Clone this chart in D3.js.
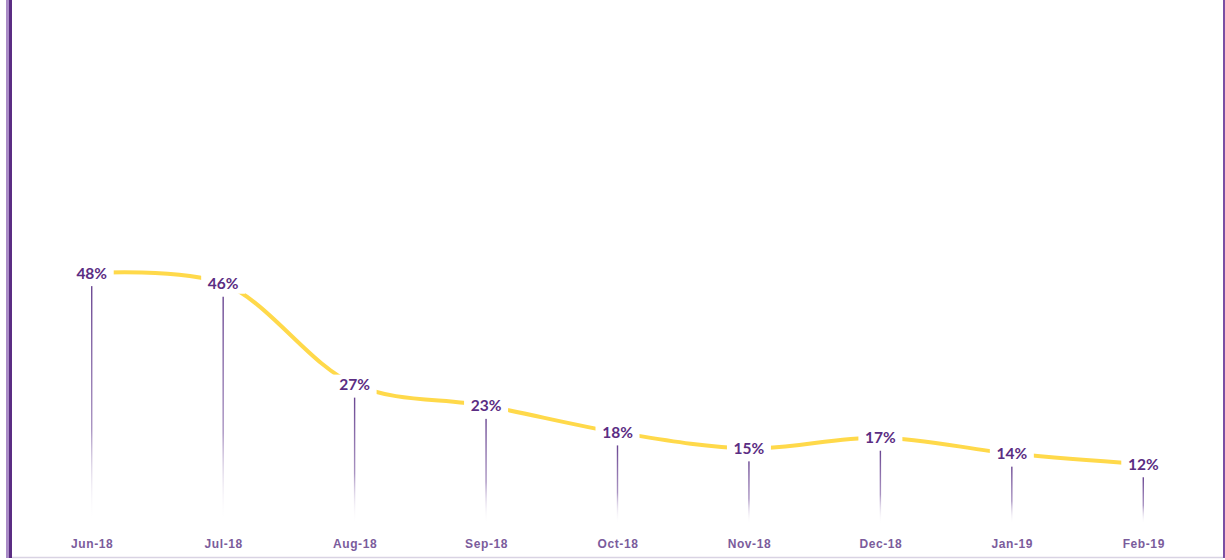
<!DOCTYPE html>
<html>
<head>
<meta charset="utf-8">
<script src="https://cdn.jsdelivr.net/npm/d3@7"></script>
<style>
  body { margin: 0; background: #fff; }
  svg { display: block; font-family: Lato, "Open Sans", sans-serif; }
  .value { font-size: 15.5px; font-weight: bold; fill: #5b2d83; }
  .cat { font-size: 12px; font-weight: bold; fill: #7b5c9c; letter-spacing: 0.6px; }
</style>
</head>
<body>
<svg id="chart" width="1225" height="560"></svg>
<script>
var months = ["Jun-18", "Jul-18", "Aug-18", "Sep-18", "Oct-18", "Nov-18", "Dec-18", "Jan-19", "Feb-19"];
var rates = [48, 46, 27, 23, 18, 15, 17, 14, 12];

var svg = d3.select("#chart");

var params = {
  "plot": { "left": 26, "right": 1209, "top": -3, "bottom": 528 }
};

var data = months.map(function(m, i) { return { "month": m, "value": rates[i] }; });

var x = d3.scalePoint()
  .domain(months)
  .range([params.plot.left, params.plot.right])
  .padding(0.5);

var y = d3.scaleLinear()
  .domain([0, 100])
  .range([params.plot.bottom, params.plot.top]);

// frame
svg.append("rect").attr("x", 6).attr("y", 0).attr("width", 3).attr("height", 558).attr("fill", "#a98bc6");
svg.append("rect").attr("x", 9).attr("y", 0).attr("width", 3).attr("height", 558).attr("fill", "#5b2d83");
svg.append("rect").attr("x", 1223).attr("y", 0).attr("width", 2).attr("height", 558).attr("fill", "#7b4fa3");
svg.append("line").attr("x1", 12).attr("x2", 1223).attr("y1", 557.5).attr("y2", 557.5)
  .attr("stroke", "#d9d3e3").attr("stroke-width", 1.5);

// gradient for drop lines
var defs = svg.append("defs");
var grad = defs.append("linearGradient")
  .attr("id", "dropGrad")
  .attr("x1", 0).attr("y1", 0).attr("x2", 0).attr("y2", 1);
grad.append("stop").attr("offset", "0%").attr("stop-color", "#6a4692").attr("stop-opacity", 1);
grad.append("stop").attr("offset", "60%").attr("stop-color", "#8c6fad").attr("stop-opacity", 0.75);
grad.append("stop").attr("offset", "100%").attr("stop-color", "#ffffff").attr("stop-opacity", 0);

// drop lines (rects so the gradient bounding box works)
svg.selectAll("rect.drop")
  .data(data)
  .enter()
  .append("rect")
  .attr("class", "drop")
  .attr("x", function(d) { return x(d.month) - 0.7; })
  .attr("y", function(d) { return y(d.value) + 13; })
  .attr("width", 1.4)
  .attr("height", function(d) { return 524 - (y(d.value) + 13); })
  .attr("fill", "url(#dropGrad)");

// smoothed line
var line = d3.line()
  .x(function(d) { return x(d.month); })
  .y(function(d) { return y(d.value); })
  .curve(d3.curveCatmullRom.alpha(0.5));

svg.append("path")
  .datum(data)
  .attr("d", line)
  .attr("fill", "none")
  .attr("stroke", "#ffd94a")
  .attr("stroke-width", 4)
  .attr("stroke-linecap", "butt");

// value labels with white background
var labels = svg.selectAll("g.label")
  .data(data)
  .enter()
  .append("g")
  .attr("class", "label")
  .attr("transform", function(d) { return "translate(" + x(d.month) + "," + y(d.value) + ")"; });

labels.append("rect")
  .attr("x", -22)
  .attr("y", -10)
  .attr("width", 44)
  .attr("height", 20)
  .attr("fill", "#fff");

labels.append("text")
  .attr("class", "value")
  .attr("text-anchor", "middle")
  .attr("dy", "0.35em")
  .text(function(d) { return d.value + "%"; });

// category axis labels
var axis = d3.axisBottom(x).tickSize(0).tickPadding(0);
var gx = svg.append("g")
  .attr("transform", "translate(0,540)")
  .call(axis);
gx.select(".domain").remove();
gx.selectAll("text")
  .attr("class", "cat")
  .attr("dy", "0.35em")
  .attr("y", 4)
  .attr("fill", null);
</script>
</body>
</html>
